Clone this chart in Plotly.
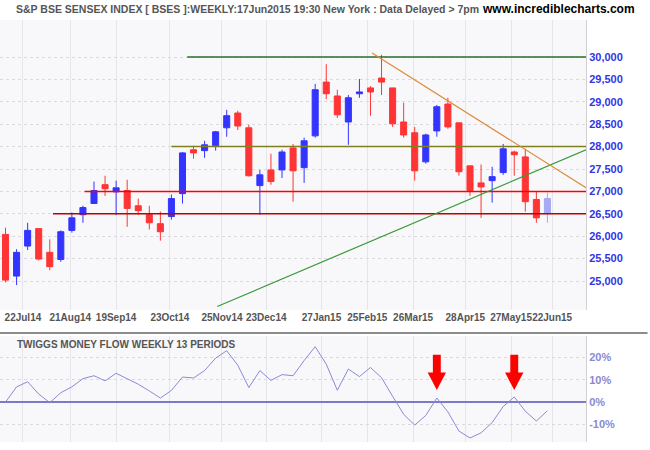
import plotly.graph_objects as go
import pandas as pd

# ---------------- data ----------------
week_dates = pd.date_range("2014-07-11", periods=50, freq="7D")

opens = [26040, 25110, 25780, 26170, 25640, 25480, 26130, 26480, 26730, 27150,
         26990, 27020, 26680, 26480, 26280, 26440, 26950, 27930, 27910, 28020,
         28420, 28750, 28420, 27130, 27480, 27480, 27970, 27530, 28240, 29440,
         29130, 28550, 29180, 29310, 29530, 29310, 28550, 28310, 27660, 28350,
         28950, 28530, 27570, 27190, 27240, 27420, 27880, 27770, 26820, 26500]
highs = [26190, 25710, 26300, 26170, 25930, 26130, 26530, 26680, 27220, 27350,
         27240, 27260, 26840, 26680, 26550, 26930, 27880, 28020, 28130, 28350,
         28820, 28800, 28490, 27480, 27840, 27930, 28060, 28200, 29400, 29840,
         29270, 29150, 29510, 29350, 30050, 29310, 28980, 28440, 28290, 28930,
         29090, 28530, 27570, 27600, 27550, 28060, 27910, 27950, 26990, 26970]
lows = [24970, 24910, 25690, 25460, 25240, 25430, 26080, 26300, 26730, 26900,
        26470, 26210, 26480, 26150, 25900, 26370, 26730, 27730, 27750, 27910,
        28220, 28370, 27330, 26480, 27150, 27300, 26770, 27190, 28200, 29060,
        28640, 28040, 29090, 28690, 29150, 28440, 28200, 27240, 27620, 28220,
        28400, 27350, 26900, 26410, 26750, 27370, 27350, 26550, 26300, 26300]
closes = [25020, 25640, 26130, 25490, 25320, 26100, 26410, 26640, 27020, 27060,
          27080, 26620, 26570, 26300, 26100, 26840, 27860, 27860, 28040, 28330,
          28690, 28460, 27350, 27370, 27220, 27880, 27460, 28130, 29270, 29180,
          28710, 29090, 29220, 29220, 29440, 28510, 28260, 27460, 28260, 28890,
          28440, 27440, 27020, 27100, 27330, 27950, 27820, 26770, 26410, 26840]

money_flow = [0.0, 6.8, 9.1, 3.6, -0.3, 4.2, 6.8, 10.5, 11.8, 9.5,
              12.9, 10.3, 8.0, 5.0, 1.8, 5.2, 11.2, 10.8, 14.1, 19.7,
              23.0, 16.5, 6.5, 14.1, 9.7, 12.3, 11.8, 18.6, 24.8, 17.0,
              5.3, 14.8, 11.4, 15.5, 10.9, 2.6, -5.5, -10.3, -6.0, 1.8,
              -4.4, -13.0, -16.1, -13.8, -9.2, -2.0, 2.3, -4.1, -8.5, -3.9]

tick_dates = ["2014-07-22", "2014-08-21", "2014-09-19", "2014-10-23", "2014-11-25",
              "2014-12-23", "2015-01-27", "2015-02-25", "2015-03-26", "2015-04-28",
              "2015-05-27", "2015-06-22"]
tick_labels = ["22Jul14", "21Aug14", "19Sep14", "23Oct14", "25Nov14", "23Dec14",
               "27Jan15", "25Feb15", "26Mar15", "28Apr15", "27May15", "22Jun15"]

price_ticks = [25000, 25500, 26000, 26500, 27000, 27500, 28000, 28500, 29000, 29500, 30000]
mf_ticks = [-10, 0, 10, 20]
mf_tick_labels = ["-10%", "0%", "10%", "20%"]

# horizontal levels: (value, start date, colour)
level_values = [30000, 28000, 27000, 26500]
level_starts = ["2014-11-03", "2014-10-24", "2014-08-30", "2014-08-10"]
level_colors = ["#2a6e2a", "#7f7f20", "#ff0000", "#c00000"]

# trend lines: start (date, value), end value at right edge
support_start = ("2014-11-22", 24430)
support_end_value = 27930
resist_start = ("2015-02-28", 30090)
resist_end_value = 27080

arrow_candles = [39, 46]   # money-flow peaks marked by red arrows

X_START = "2014-07-07 12:00"
X_END = "2015-07-13 10:00"

BLUE = "#3434ff"
RED = "#ff3434"
LIGHT = "#a8a8f4"
SANS = "Liberation Sans, Arial"

fig = go.Figure()

fig.add_trace(go.Candlestick(
    x=week_dates[:-1], open=opens[:-1], high=highs[:-1], low=lows[:-1], close=closes[:-1],
    increasing=dict(line=dict(color=BLUE, width=1), fillcolor=BLUE),
    decreasing=dict(line=dict(color=RED, width=1), fillcolor=RED),
    whiskerwidth=0, showlegend=False, hoverinfo="skip", xaxis="x", yaxis="y"))
fig.add_trace(go.Candlestick(
    x=week_dates[-1:], open=opens[-1:], high=highs[-1:], low=lows[-1:], close=closes[-1:],
    increasing=dict(line=dict(color=LIGHT, width=1), fillcolor=LIGHT),
    decreasing=dict(line=dict(color=LIGHT, width=1), fillcolor=LIGHT),
    whiskerwidth=0, showlegend=False, hoverinfo="skip", xaxis="x", yaxis="y"))

# money flow line
fig.add_trace(go.Scatter(x=week_dates, y=money_flow, mode="lines",
                         line=dict(color="#8a8ad6", width=1),
                         showlegend=False, hoverinfo="skip", xaxis="x2", yaxis="y2"))

# red arrows above money flow peaks
day = pd.Timedelta(days=1)
for ci in arrow_candles:
    c = week_dates[ci]
    xs = [c - 2.5 * day, c + 2.5 * day, c + 2.5 * day, c + 5.8 * day, c,
          c - 5.8 * day, c - 2.5 * day, c - 2.5 * day]
    ys = [21.2, 21.2, 13.2, 13.2, 5.4, 13.2, 13.2, 21.2]
    fig.add_trace(go.Scatter(x=xs, y=ys, mode="lines", fill="toself",
                             fillcolor="#ff0000", line=dict(color="#ff0000", width=0),
                             showlegend=False, hoverinfo="skip", xaxis="x2", yaxis="y2"))

shapes = []
for v, s, col in zip(level_values, level_starts, level_colors):
    shapes.append(dict(type="line", xref="x", yref="y", x0=s, x1=X_END, y0=v, y1=v,
                       line=dict(color=col, width=1.5)))
shapes.append(dict(type="line", xref="x", yref="y", x0=support_start[0], y0=support_start[1],
                   x1=X_END, y1=support_end_value, line=dict(color="#3a9a3a", width=1.2)))
shapes.append(dict(type="line", xref="x", yref="y", x0=resist_start[0], y0=resist_start[1],
                   x1=X_END, y1=resist_end_value, line=dict(color="#dd8a3a", width=1.2)))
# separator between panels
sep_y = (442 - 333) / 422
shapes.append(dict(type="rect", xref="paper", yref="paper", x0=0, x1=1.105,
                   y0=sep_y - 0.0024, y1=sep_y + 0.0024, layer="above",
                   fillcolor="#8c8c8c", line=dict(width=0)))

annotations = [
    dict(xref="paper", yref="paper", x=14 / 586, y=1 + 11 / 422, xanchor="left", yanchor="middle",
         text="S&P BSE SENSEX INDEX [ BSES ]:WEEKLY:17Jun2015 19:30 New York : Data Delayed > 7pm",
         showarrow=False, font=dict(family=SANS, size=10.5, color="#555555", weight="bold")),
    dict(xref="paper", yref="paper", x=637 / 586, y=1 + 11 / 422, xanchor="right", yanchor="middle",
         text="www.incrediblecharts.com", showarrow=False,
         font=dict(family=SANS, size=12, color="#000000", weight="bold")),
    dict(xref="paper", yref="paper", x=15 / 586, y=(442 - 344) / 422, xanchor="left", yanchor="middle",
         text="TWIGGS MONEY FLOW WEEKLY 13 PERIODS", showarrow=False,
         font=dict(family=SANS, size=10, color="#555555", weight="bold")),
]

fig.update_layout(
    width=650, height=450,
    margin=dict(l=0, r=64, t=20, b=8),
    paper_bgcolor="#ffffff", plot_bgcolor="#f8f8fa",
    boxgap=0.22,
    shapes=shapes, annotations=annotations,
    xaxis=dict(domain=[0, 1], anchor="y", type="date", range=[X_START, X_END],
               tickvals=tick_dates, ticktext=tick_labels, ticks="", tickangle=0,
               tickfont=dict(family=SANS, size=10, color="#555555", weight="bold"),
               showgrid=True, gridcolor="#e6e6ea", gridwidth=1,
               rangeslider=dict(visible=False), showline=False, zeroline=False),
    yaxis=dict(domain=[(442 - 310) / 422, 1], anchor="x", side="right",
               range=[24353, 30826], tickvals=price_ticks,
               ticktext=[f"{v:,}" for v in price_ticks], ticks="",
               tickfont=dict(family=SANS, size=11, color="#3434e6", weight="bold"),
               showgrid=True, gridcolor="#d9d9de", griddash="dot", gridwidth=1,
               showline=True, linecolor="#d0d0d4", zeroline=False),
    xaxis2=dict(domain=[0, 1], anchor="y2", type="date", matches="x",
                tickvals=tick_dates, showticklabels=False, ticks="",
                showgrid=True, gridcolor="#e6e6ea", zeroline=False),
    yaxis2=dict(domain=[0, (442 - 336) / 422], anchor="x2", side="right",
                range=[-17.9, 29.6], tickvals=mf_ticks, ticktext=mf_tick_labels, ticks="",
                tickfont=dict(family=SANS, size=11, color="#8a8ad0", weight="bold"),
                showgrid=True, gridcolor="#d9d9de", griddash="dot",
                zeroline=True, zerolinecolor="#7a7ac8", zerolinewidth=1.5,
                showline=True, linecolor="#d0d0d4"),
)

fig.write_html("out.html")
